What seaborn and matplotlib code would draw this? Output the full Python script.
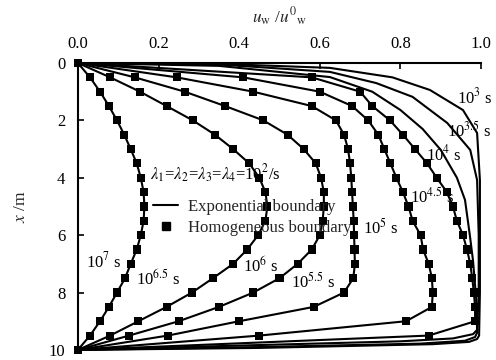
import numpy as np
import pandas as pd
import matplotlib
matplotlib.use("Agg")
import matplotlib.pyplot as plt
import seaborn as sns

# depth grid (m) for the profiles sampled every 0.5 m
depth = [0, 0.5, 1, 1.5, 2, 2.5, 3, 3.5, 4, 4.5, 5, 5.5, 6, 6.5, 7, 7.5, 8, 8.5, 9, 9.5, 10]

# normalised concentration u_w/u0_w at each depth
u_1e7 = [0, 0.03, 0.055, 0.077, 0.097, 0.115, 0.131, 0.146, 0.156, 0.163, 0.165,
         0.163, 0.156, 0.146, 0.131, 0.117, 0.097, 0.077, 0.055, 0.03, 0]
u_1e65 = [0, 0.08, 0.154, 0.22, 0.285, 0.34, 0.385, 0.425, 0.45, 0.465, 0.47,
          0.465, 0.447, 0.42, 0.385, 0.335, 0.283, 0.22, 0.15, 0.08, 0]
u_1e6 = [0, 0.141, 0.265, 0.365, 0.46, 0.52, 0.56, 0.59, 0.603, 0.61, 0.61,
         0.607, 0.60, 0.58, 0.545, 0.50, 0.435, 0.35, 0.25, 0.127, 0]
u_1e55 = [0, 0.245, 0.435, 0.58, 0.64, 0.66, 0.67, 0.675, 0.678, 0.68, 0.682,
          0.684, 0.685, 0.686, 0.687, 0.683, 0.66, 0.585, 0.40, 0.223, 0]
u_1e5 = [0, 0.41, 0.60, 0.68, 0.72, 0.745, 0.76, 0.775, 0.79, 0.806, 0.82,
         0.83, 0.85, 0.856, 0.87, 0.878, 0.88, 0.878, 0.814, 0.45, 0]
u_1e45 = [0, 0.58, 0.70, 0.73, 0.774, 0.806, 0.836, 0.866, 0.89, 0.915, 0.93,
          0.94, 0.955, 0.965, 0.973, 0.978, 0.982, 0.985, 0.985, 0.87, 0]

# short-time profiles, sampled more densely near both boundaries
depth_1e4 = [0, 0.1, 0.49, 1.0, 1.64, 2.3, 3.03, 4.0, 4.77, 6.0, 6.9, 8.26, 9.3, 9.45, 9.6, 9.7, 9.83, 10]
u_1e4 = [0, 0.35, 0.625, 0.73, 0.80, 0.855, 0.90, 0.94, 0.96, 0.972, 0.98, 0.988, 0.99, 0.98, 0.93, 0.80, 0.45, 0]
depth_1e35 = [0, 0.05, 0.31, 0.7, 1.18, 2.09, 3.03, 4.08, 6.0, 8.0, 9.4, 9.55, 9.68, 9.78, 9.9, 10]
u_1e35 = [0, 0.35, 0.625, 0.74, 0.83, 0.916, 0.973, 0.99, 0.994, 0.994, 0.99, 0.985, 0.96, 0.85, 0.45, 0]
depth_1e3 = [0, 0.03, 0.17, 0.5, 0.94, 1.64, 2.44, 4.08, 6.0, 8.0, 9.5, 9.62, 9.72, 9.8, 9.93, 10]
u_1e3 = [0, 0.35, 0.625, 0.78, 0.873, 0.955, 0.99, 0.997, 0.997, 0.997, 0.995, 0.99, 0.97, 0.88, 0.45, 0]

labels = ["10$^{3}$ s", "10$^{3.5}$ s", "10$^{4}$ s", "10$^{4.5}$ s", "10$^{5}$ s",
          "10$^{5.5}$ s", "10$^{6}$ s", "10$^{6.5}$ s", "10$^{7}$ s"]
label_u = [0.985, 0.97, 0.908, 0.878, 0.752, 0.583, 0.454, 0.198, 0.064]
label_x = [1.19, 2.37, 3.17, 4.67, 5.75, 7.63, 7.07, 7.53, 6.93]

sns.set_theme(style="white")
plt.rcParams["font.family"] = ["Liberation Serif", "DejaVu Serif"]
plt.rcParams["mathtext.fontset"] = "stix"

fig = plt.figure(figsize=(4.96, 3.6), dpi=100)
ax = fig.add_axes([0.157, 0.028, 0.813, 0.797])

lw = 1.5
solid_sets = [(u_1e3, depth_1e3), (u_1e35, depth_1e35), (u_1e4, depth_1e4)]
square_sets = [u_1e45, u_1e5, u_1e55, u_1e6, u_1e65, u_1e7]

for uu, dd in solid_sets:
    sns.lineplot(x=uu, y=dd, sort=False, estimator=None, color="black", lw=lw, ax=ax, clip_on=False)
for uu in square_sets:
    sns.lineplot(x=uu, y=depth, sort=False, estimator=None, color="black", lw=lw, ax=ax, clip_on=False)
    sns.scatterplot(x=uu, y=depth, marker="s", s=34, color="black", edgecolor="none", ax=ax,
                    clip_on=False, zorder=3)

ax.set_xlim(0, 1.0)
ax.set_ylim(10, 0)
ax.xaxis.tick_top()
ax.xaxis.set_label_position("top")
ax.set_xticks(np.arange(0, 1.01, 0.2))
ax.set_xticklabels([f"{t:.1f}" for t in np.arange(0, 1.01, 0.2)])
ax.set_yticks(range(0, 11, 2))
ax.tick_params(axis="both", direction="in", length=4, width=1.2, labelsize=12, colors="black")
ax.tick_params(axis="x", top=True, bottom=False, pad=8)
ax.tick_params(axis="y", left=True, right=False, pad=9)
for side in ["right", "bottom"]:
    ax.spines[side].set_visible(False)
for side in ["left", "top"]:
    ax.spines[side].set_color("black")
    ax.spines[side].set_linewidth(1.5)

ax.set_xlabel("$u_{\\mathrm{w}}$ /$u^{0}{}_{\\mathrm{w}}$", fontsize=12.5, labelpad=9)
ax.set_ylabel("$x$ /m", fontsize=12.5, labelpad=14)

for t, lu, lx in zip(labels, label_u, label_x):
    ax.text(lu, lx, t, fontsize=12, ha="center", va="center", color="black")

ax.text(0.178, 3.85, "$\\lambda_1$=$\\lambda_2$=$\\lambda_3$=$\\lambda_4$=10$^2$/s", fontsize=12,
        ha="left", va="center", color="black")

handles = [plt.Line2D([], [], color="black", lw=lw),
           plt.Line2D([], [], color="black", lw=0, marker="s", markersize=6)]
ax.legend(handles, ["Exponential boundary", "Homogeneous boundary"], loc="upper left",
          bbox_to_anchor=(0.17, 0.55), frameon=False, fontsize=12, handlelength=1.5,
          handletextpad=0.6, borderaxespad=0, labelspacing=0.3)

fig.savefig("out.png", dpi=100)
